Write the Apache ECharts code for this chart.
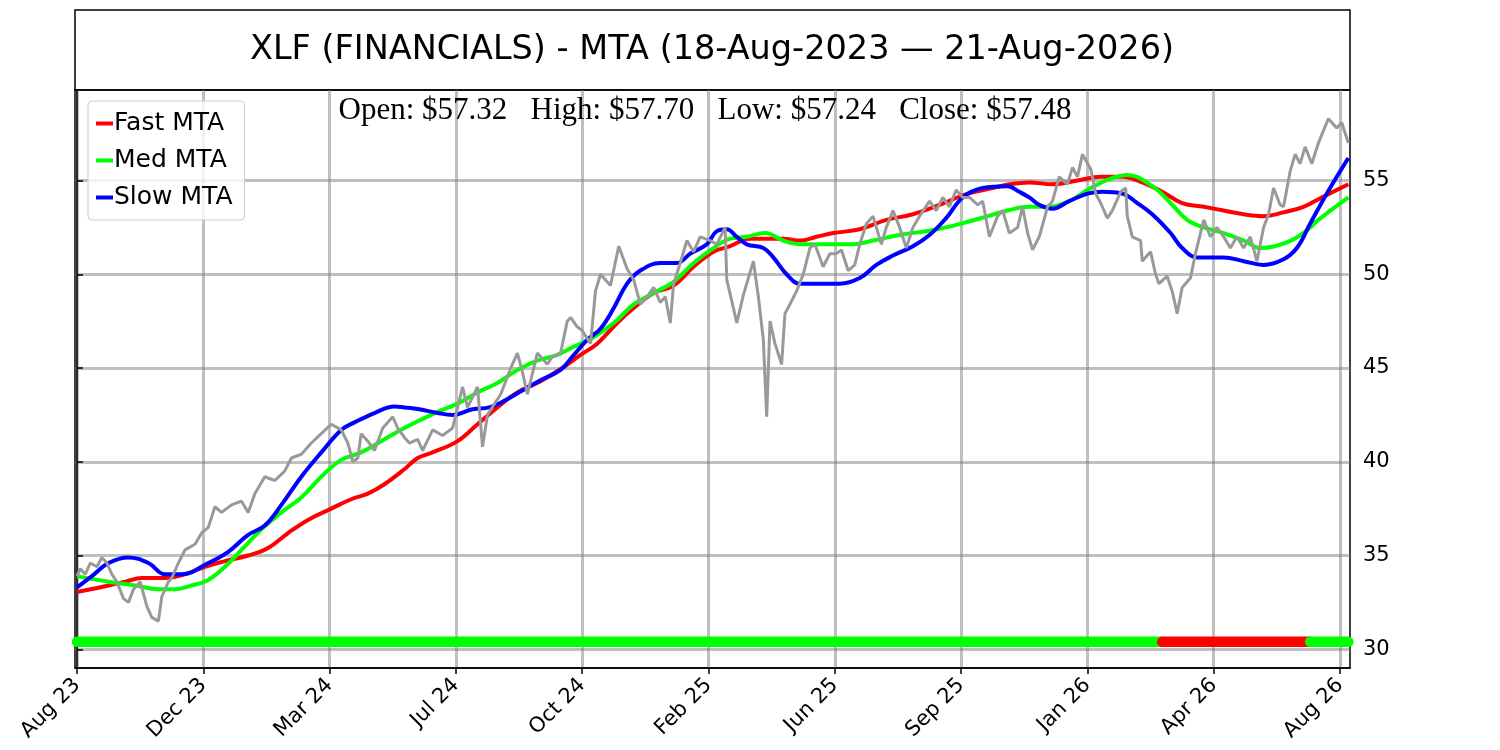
<!DOCTYPE html>
<html>
<head>
<meta charset="utf-8">
<title>XLF (FINANCIALS) - MTA</title>
<script src="https://cdn.jsdelivr.net/npm/echarts@6.0.0/dist/echarts.min.js"></script>
<style>
    html, body { margin: 0; padding: 0; background: #ffffff; }
    #chart { width: 1500px; height: 750px; }
</style>
</head>
<body>
<div id="chart"></div>
<script>
// x values are trading-day indices (0 = 18-Aug-2023)
var tickIdx = [0, 76, 152, 228, 304, 380, 456, 532, 608, 684, 760];
var tickLabels = ['Aug 23', 'Dec 23', 'Mar 24', 'Jul 24', 'Oct 24', 'Feb 25', 'Jun 25', 'Sep 25', 'Jan 26', 'Apr 26', 'Aug 26'];
var yTicks = [30, 35, 40, 45, 50, 55];

// price (gray)
var priceX = [0, 2, 5, 8, 12, 15, 18, 21, 24, 28, 31, 34, 38, 42, 45, 49, 51, 55, 57, 61, 65, 71, 75, 79, 83, 87, 93, 99, 103, 107,
    113, 119, 125, 129, 135, 141, 147, 153, 159, 163, 166, 169, 171, 175, 179, 184, 190, 193, 197, 200, 205, 208, 214, 220, 226, 232, 235, 241, 244, 247,
    252, 255, 261, 265, 268, 271, 277, 283, 286, 291, 295, 297, 301, 304, 309, 312, 315, 321, 326, 331, 335, 339, 343, 347, 351, 354, 357, 359, 363, 367,
    371, 375, 381, 385, 390, 391, 395, 397, 401, 407, 410, 413, 415, 417, 420, 424, 426, 429, 433, 437, 441, 444, 449, 453, 457, 460, 464, 468, 471, 475,
    479, 484, 487, 491, 495, 499, 503, 507, 513, 517, 521, 525, 529, 533, 537, 542, 545, 549, 554, 557, 561, 566, 569, 572, 575, 579, 584, 587, 591, 596,
    599, 602, 605, 610, 613, 616, 620, 623, 628, 631, 632, 635, 640, 641, 646, 649, 651, 656, 659, 662, 665, 670, 673, 678, 682, 686, 690, 694, 698, 702,
    706, 710, 714, 717, 720, 724, 726, 730, 733, 736, 739, 743, 747, 753, 758, 761, 765];
var priceY = [33.9, 34.3, 34.0, 34.6, 34.4, 34.9, 34.6, 34.0, 33.6, 32.7, 32.5, 33.2, 33.6, 32.3, 31.7, 31.5, 32.8, 33.6, 33.8, 34.6, 35.3, 35.6, 36.2, 36.5, 37.6, 37.3, 37.7, 37.9, 37.3, 38.3,
    39.2, 39.0, 39.5, 40.2, 40.4, 41.0, 41.5, 42.0, 41.7, 41.0, 40.0, 40.2, 41.5, 41.1, 40.6, 41.8, 42.4, 41.8, 41.3, 41.0, 41.2, 40.6, 41.7, 41.4, 41.8, 44.0, 42.9, 44.0, 40.8, 42.5,
    43.2, 43.6, 45.0, 45.8, 44.8, 43.6, 45.8, 45.2, 45.6, 45.8, 47.5, 47.7, 47.2, 47.0, 46.3, 49.1, 50.0, 49.4, 51.5, 50.3, 49.7, 48.4, 48.8, 49.3, 48.5, 48.8, 47.4, 49.5, 50.6, 51.8,
    51.2, 52.0, 51.8, 51.6, 52.5, 49.7, 48.2, 47.4, 48.9, 50.7, 48.8, 46.5, 42.4, 47.5, 46.3, 45.2, 47.9, 48.4, 49.1, 50.0, 51.4, 51.6, 50.4, 51.1, 51.1, 51.3, 50.2, 50.5, 51.6, 52.7,
    53.1, 51.6, 52.5, 53.4, 52.5, 51.4, 52.5, 53.1, 53.9, 53.4, 54.1, 53.6, 54.5, 54.1, 54.1, 53.7, 53.9, 52.0, 53.1, 53.4, 52.2, 52.5, 53.6, 52.2, 51.3, 52.0, 53.6, 53.9, 55.2, 54.8,
    55.7, 55.2, 56.4, 55.6, 54.3, 53.8, 53.0, 53.4, 54.4, 54.6, 53.1, 52.0, 51.8, 50.7, 51.2, 50.0, 49.5, 49.9, 49.1, 47.9, 49.3, 49.8, 51.1, 52.9, 52.0, 52.5, 52.0, 51.4, 52.0, 51.4,
    52.0, 50.7, 52.5, 53.2, 54.6, 53.7, 53.6, 55.5, 56.4, 55.9, 56.8, 55.9, 57.0, 58.3, 57.8, 58.1, 57.0];

// Fast MTA (red)
var fastX = [0, 19, 29, 39, 53, 65, 77, 89, 103, 115, 127, 139, 153, 165, 175, 185, 197, 205, 214, 229, 241, 253, 265, 279, 292, 303, 313, 325, 335, 347,
    359, 371, 383, 393, 405, 425, 435, 445, 455, 471, 487, 503, 519, 536, 551, 561, 573, 587, 602, 616, 629, 641, 653, 665, 678, 690, 702, 714, 726, 738, 749, 765];
var fastY = [33.05, 33.4, 33.6, 33.8, 33.8, 34.0, 34.4, 34.7, 35.0, 35.4, 36.2, 36.9, 37.5, 38.0, 38.3, 38.8, 39.6, 40.2, 40.5, 41.1, 42.0, 42.9, 43.7, 44.3, 45.0, 45.7, 46.3, 47.4, 48.2, 49.0,
    49.4, 50.4, 51.2, 51.5, 51.9, 51.9, 51.8, 52.0, 52.2, 52.4, 52.9, 53.2, 53.7, 54.3, 54.6, 54.8, 54.9, 54.8, 55.0, 55.2, 55.2, 54.9, 54.4, 53.8, 53.6, 53.4, 53.2, 53.1, 53.3, 53.6, 54.1, 54.8];

// Med MTA (green)
var medX = [0, 19, 35, 49, 59, 69, 79, 89, 99, 111, 123, 135, 147, 159, 171, 185, 197, 206, 218, 229, 241, 253, 265, 277, 289, 298, 310, 323, 335, 347,
    359, 371, 383, 393, 403, 414, 425, 435, 455, 467, 479, 495, 511, 523, 536, 548, 560, 573, 585, 597, 610, 622, 632, 647, 658, 668, 678, 690, 702, 712, 728, 738, 747, 765];
var medY = [33.9, 33.6, 33.4, 33.2, 33.2, 33.4, 33.7, 34.4, 35.3, 36.4, 37.3, 38.1, 39.2, 40.1, 40.5, 41.2, 41.8, 42.2, 42.7, 43.1, 43.7, 44.2, 44.9, 45.4, 45.7, 46.1, 46.6, 47.4, 48.4, 49.0,
    49.6, 50.6, 51.4, 51.9, 52.0, 52.2, 51.8, 51.6, 51.6, 51.6, 51.8, 52.1, 52.3, 52.5, 52.8, 53.1, 53.4, 53.6, 53.6, 53.9, 54.6, 55.1, 55.3, 54.7, 53.8, 52.9, 52.5, 52.2, 51.8, 51.4, 51.7, 52.2, 52.9, 54.1];

// Slow MTA (blue)
var slowX = [0, 9, 19, 31, 43, 53, 63, 79, 91, 103, 113, 123, 135, 147, 159, 167, 179, 191, 197, 206, 217, 226, 238, 248, 256, 268, 280, 291, 298, 307,
    315, 323, 331, 339, 351, 361, 369, 379, 385, 391, 397, 403, 413, 419, 427, 435, 447, 459, 471, 481, 491, 503, 513, 523, 533, 545, 560, 567, 573, 579,
    587, 597, 608, 617, 629, 638, 647, 658, 665, 674, 690, 702, 714, 726, 734, 742, 752, 765];
var slowY = [33.3, 33.9, 34.6, 34.9, 34.6, 34.0, 34.0, 34.6, 35.2, 36.1, 36.6, 37.7, 39.2, 40.5, 41.7, 42.1, 42.6, 42.95, 42.9, 42.8, 42.6, 42.5, 42.8, 42.9, 43.2, 43.8, 44.4, 44.9, 45.6, 46.5,
    47.1, 48.2, 49.5, 50.2, 50.6, 50.6, 51.1, 51.6, 52.3, 52.4, 52.0, 51.6, 51.4, 50.9, 50.0, 49.5, 49.5, 49.5, 49.8, 50.5, 51.0, 51.5, 52.1, 53.0, 54.1, 54.6, 54.7, 54.4, 54.1, 53.7,
    53.5, 53.9, 54.3, 54.4, 54.3, 53.8, 53.2, 52.2, 51.4, 50.9, 50.9, 50.7, 50.5, 50.8, 51.4, 52.7, 54.3, 56.2];

// trend signal band
var signalLevel = 30.4;
var bearStart = 653;
var bearEnd = 742;
var lastIdx = 765;

var FONT = '"DejaVu Sans", sans-serif';

function pairs(xs, ys) {
    return xs.map(function (x, i) { return [x, ys[i]]; });
}

var chart = echarts.init(document.getElementById('chart'), null, { renderer: 'canvas' });

var option = {
    animation: false,
    backgroundColor: '#ffffff',
    grid: {
        left: 75, right: 150, top: 90, bottom: 82,
        show: true, borderColor: '#000000', borderWidth: 1.5, backgroundColor: 'transparent'
    },
    graphic: [
        {
            type: 'rect', z: -1,
            shape: { x: 75, y: 10, width: 1275, height: 80 },
            style: { fill: '#ffffff', stroke: '#000000', lineWidth: 1.5 }
        },
        {
            type: 'text', x: 712, y: 50,
            style: {
                text: 'XLF (FINANCIALS) - MTA (18-Aug-2023 \u2014 21-Aug-2026)',
                font: '33.5px ' + FONT, fill: '#000000', textAlign: 'center', textVerticalAlign: 'middle'
            }
        },
        {
            type: 'text', x: 705, y: 111, z: 10,
            style: {
                text: 'Open: $57.32   High: $57.70   Low: $57.24   Close: $57.48',
                font: '31px "Liberation Serif", "Times New Roman", serif', fill: '#000000',
                textAlign: 'center', textVerticalAlign: 'middle'
            }
        }
    ],
    legend: {
        orient: 'vertical', left: 88, top: 101,
        data: ['Fast MTA', 'Med MTA', 'Slow MTA'],
        icon: 'rect', itemWidth: 17, itemHeight: 4, itemGap: 12,
        padding: [10, 12, 10, 8],
        backgroundColor: 'rgba(255,255,255,0.8)', borderColor: '#cccccc', borderWidth: 1, borderRadius: 4,
        textStyle: { fontFamily: FONT, fontSize: 25, color: '#000000', padding: [0, 0, 0, -4] }
    },
    xAxis: {
        type: 'value', min: -1.2, max: 766,
        axisLine: { show: true, lineStyle: { color: '#000000', width: 1.5 } },
        axisTick: { show: true, length: 6, lineStyle: { color: '#000000', width: 1.5 }, customValues: tickIdx },
        axisLabel: {
            customValues: tickIdx, rotate: 45, margin: 14,
            fontFamily: FONT, fontSize: 21, color: '#000000',
            formatter: function (v) { return tickLabels[tickIdx.indexOf(Math.round(v))] || ''; }
        },
        splitLine: { show: true, lineStyle: { color: 'rgba(128,128,128,0.5)', width: 3 } }
    },
    yAxis: {
        type: 'value', position: 'right', min: 29.0, max: 59.83,
        axisLine: { show: true, lineStyle: { color: '#000000', width: 1.5 } },
        axisTick: { show: true, length: 6, lineStyle: { color: '#000000', width: 1.5 }, customValues: yTicks },
        axisLabel: { customValues: yTicks, margin: 13, fontFamily: FONT, fontSize: 21, color: '#000000' },
        splitLine: { show: true, lineStyle: { color: 'rgba(128,128,128,0.5)', width: 3 } }
    },
    series: [
        {
            name: 'Fast MTA', type: 'line', data: pairs(fastX, fastY), symbol: 'none', smooth: 0.4,
            itemStyle: { color: '#ff0000' }, lineStyle: { color: '#ff0000', width: 4 }
        },
        {
            name: 'Med MTA', type: 'line', data: pairs(medX, medY), symbol: 'none', smooth: 0.4,
            itemStyle: { color: '#00ff00' }, lineStyle: { color: '#00ff00', width: 4 }
        },
        {
            name: 'Slow MTA', type: 'line', data: pairs(slowX, slowY), symbol: 'none', smooth: 0.4,
            itemStyle: { color: '#0000ff' }, lineStyle: { color: '#0000ff', width: 4 }
        },
        {
            name: 'Price', type: 'line', data: pairs(priceX, priceY), symbol: 'none',
            itemStyle: { color: '#999999' }, lineStyle: { color: '#999999', width: 3 }
        },
        {
            name: 'Signal up', type: 'line', data: [[0, signalLevel], [bearStart, signalLevel]], symbol: 'none',
            lineStyle: { color: '#00ff00', width: 10.5, cap: 'round' }
        },
        {
            name: 'Signal down', type: 'line', data: [[bearStart, signalLevel], [bearEnd, signalLevel]], symbol: 'none',
            lineStyle: { color: '#ff0000', width: 10.5, cap: 'round' }
        },
        {
            name: 'Signal up 2', type: 'line', data: [[bearEnd, signalLevel], [lastIdx, signalLevel]], symbol: 'none',
            lineStyle: { color: '#00ff00', width: 10.5, cap: 'round' }
        }
    ]
};

chart.setOption(option);
</script>
</body>
</html>
